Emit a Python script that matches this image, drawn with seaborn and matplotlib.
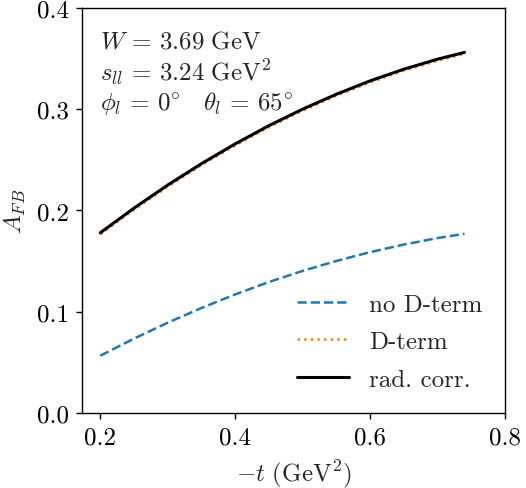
import numpy as np
import pandas as pd
import matplotlib
matplotlib.use("Agg")
import matplotlib.pyplot as plt
import seaborn as sns

# -t values (GeV^2)
t_vals = [0.20, 0.25, 0.30, 0.35, 0.40, 0.45, 0.50, 0.55, 0.60, 0.65, 0.70, 0.74]

# A_FB
afb_no_dterm = [0.0567, 0.0736, 0.0893, 0.1038, 0.1172, 0.1294, 0.1404, 0.1502,
                0.1589, 0.1664, 0.1728, 0.1770]
afb_dterm = [0.1765, 0.2008, 0.2236, 0.2447, 0.2642, 0.2822, 0.2985, 0.3132,
             0.3264, 0.3379, 0.3478, 0.3545]
afb_rad_corr = [0.1780, 0.2023, 0.2251, 0.2462, 0.2657, 0.2837, 0.3000, 0.3147,
                0.3279, 0.3394, 0.3493, 0.3560]

labels = ["no D-term", "D-term", "rad. corr."]

sns.set_style("ticks")
plt.rcParams["font.family"] = "serif"
plt.rcParams["font.serif"] = ["cmr10"]
plt.rcParams["mathtext.fontset"] = "cm"
plt.rcParams["axes.formatter.use_mathtext"] = True
plt.rcParams["font.size"] = 18
plt.rcParams["axes.unicode_minus"] = False

fs = 18

fig = plt.figure(figsize=(5.26, 4.89), dpi=100)
ax = fig.add_axes([0.156, 0.153, 0.804, 0.829])

sns.lineplot(x=t_vals, y=afb_no_dterm, ax=ax, color="#1f77b4", lw=1.8,
             linestyle="--", label=labels[0])
sns.lineplot(x=t_vals, y=afb_dterm, ax=ax, color="#ff7f0e", lw=1.8,
             linestyle=":", label=labels[1])
sns.lineplot(x=t_vals, y=afb_rad_corr, ax=ax, color="black", lw=2.2,
             label=labels[2])

ax.set_xlim(0.173, 0.8)
ax.set_ylim(0.0, 0.4)
ax.set_xticks([0.2, 0.4, 0.6, 0.8])
ax.set_yticks([0.0, 0.1, 0.2, 0.3, 0.4])
ax.set_xticklabels(["0.2", "0.4", "0.6", "0.8"])
ax.set_yticklabels(["0.0", "0.1", "0.2", "0.3", "0.4"])
ax.tick_params(direction="out", length=4.5, width=1, labelsize=fs, colors="black",
               pad=5)
for sp in ax.spines.values():
    sp.set_color("black")
    sp.set_linewidth(1.0)

ax.set_xlabel(r"$-t\ (\mathrm{GeV}^2)$", fontsize=fs, labelpad=6)
ax.set_ylabel(r"$A_{FB}$", fontsize=fs, labelpad=6)

ax.text(0.043, 0.945,
        "$W \\,=\\, 3.69\\ \\mathrm{GeV}$\n"
        "$s_{ll} \\,=\\, 3.24\\ \\mathrm{GeV}^2$\n"
        "$\\phi_l \\,=\\, 0^{\\circ}\\quad \\theta_l \\,=\\, 65^{\\circ}$",
        transform=ax.transAxes, ha="left", va="top", fontsize=fs,
        linespacing=1.15)

ax.legend(loc="lower right", frameon=False, fontsize=fs, handlelength=2.1,
          handletextpad=0.8, labelspacing=0.6, borderaxespad=0.5)

plt.savefig("out.png", dpi=100, facecolor="white")
